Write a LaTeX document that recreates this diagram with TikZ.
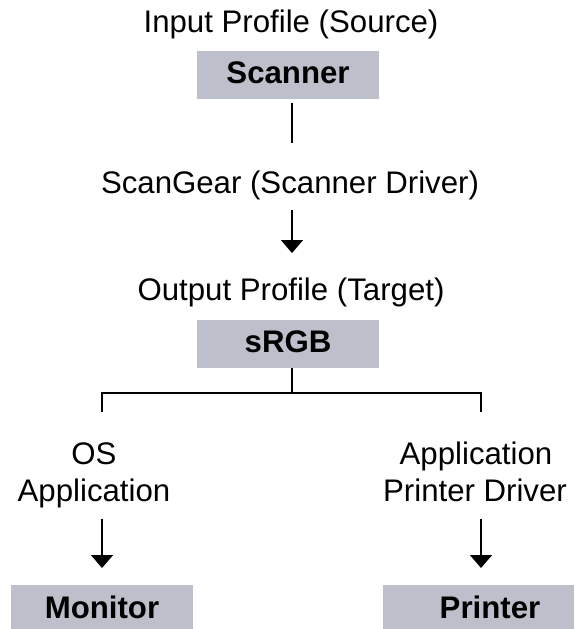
\documentclass[tikz,border=0pt]{standalone}
\usepackage{fontspec}
\setmainfont{Liberation Sans}
\usetikzlibrary{arrows.meta}
\definecolor{boxgray}{RGB}{189,192,202}
\begin{document}
\begin{tikzpicture}[x=1pt,y=-1pt,
  lbl/.style={font=\fontsize{31.2}{36}\selectfont, inner sep=0pt, anchor=base},
  boxnode/.style={fill=boxgray, font=\fontsize{31.2}{36}\selectfont\bfseries, inner sep=0pt, text height=22pt, text depth=6pt},
  conn/.style={line width=1.6pt, line cap=butt},
  arr/.style={conn, -{Triangle[length=13pt,width=22pt]}}]
\useasboundingbox (0,0) rectangle (574,629);
% top
\node[lbl] (inp) at (291,32) {Input Profile (Source)};
\node[boxnode, minimum width=182pt, minimum height=48pt] (scanner) at (288,75) {Scanner};
\node[lbl] (gear) at (290,193) {ScanGear (Scanner Driver)};
\node[lbl] (outp) at (291,300) {Output Profile (Target)};
\node[boxnode, minimum width=182pt, minimum height=48pt] (srgb) at (288,344) {sRGB};
% left column
\node[lbl] (os) at (94,464) {OS};
\node[lbl] (appl) at (94,501) {Application};
\node[boxnode, minimum width=182pt, minimum height=44pt, text depth=0pt] (monitor) at (102,607) {Monitor};
% right column
\node[lbl] (appr) at (476,464) {Application};
\node[lbl] (pdrv) at (475,501) {Printer Driver};
\node[boxnode, minimum width=191pt, minimum height=44pt, text depth=0pt] (printer) at (478.5,607) {\hspace*{23pt}Printer};
% connector points
\coordinate (c1a) at (292,103);
\coordinate (c1b) at (292,143);
\coordinate (c2a) at (292,210);
\coordinate (c2b) at (292,253);
\coordinate (c3a) at (292,368);
\coordinate (fork) at (292,393);
\coordinate (fl) at (102,393);
\coordinate (fr) at (481,393);
\coordinate (dl) at (102,412);
\coordinate (dr) at (481,412);
\coordinate (al) at (102,519);
\coordinate (alt) at (102,568);
\coordinate (ar) at (481,519);
\coordinate (art) at (481,568);
% connectors
\draw[conn] (c1a) -- (c1b);
\draw[arr] (c2a) -- (c2b);
\draw[conn] (c3a) -- (fork);
\draw[conn] (dl) -- (fl) -- (fr) -- (dr);
\draw[arr] (al) -- (alt);
\draw[arr] (ar) -- (art);
\end{tikzpicture}
\end{document}
